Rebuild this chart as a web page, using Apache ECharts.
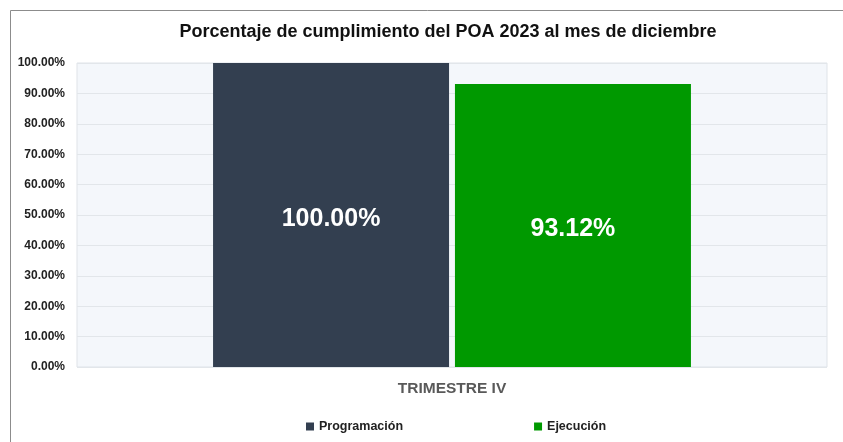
<!DOCTYPE html>
<html>
<head>
    <meta charset="utf-8">
    <script src="https://cdn.jsdelivr.net/npm/echarts@6/dist/echarts.min.js"></script>
    <style>
        body { margin: 0; background: #fff; }
    </style>
</head>
<body>
    <div id="main" style="width:843px; height:442px;"></div>
    <script type="text/javascript">
        var categories = ['TRIMESTRE IV'];
        var programacion = [100.00];
        var ejecucion = [93.12];
        var seriesNames = ['Programación', 'Ejecución'];

        var font = 'Liberation Sans';
        var myChart = echarts.init(document.getElementById('main'));
        var option = {
            animation: false,
            backgroundColor: '#fff',
            title: {
                text: 'Porcentaje de cumplimiento del POA 2023 al mes de diciembre',
                left: 443,
                textAlign: 'center',
                top: 18,
                textStyle: { fontFamily: font, fontSize: 18, fontWeight: 'bold', color: '#111' }
            },
            legend: {
                data: seriesNames,
                bottom: 4,
                left: 301,
                itemWidth: 8,
                itemHeight: 8,
                itemGap: 131,
                icon: 'rect',
                textStyle: { fontFamily: font, fontSize: 12.5, fontWeight: 'bold', color: '#222' }
            },
            grid: {
                left: 77, right: 16, top: 63, bottom: 75,
                show: true,
                backgroundColor: '#f4f7fb',
                borderColor: '#dfe3e8',
                borderWidth: 1
            },
            xAxis: {
                type: 'category',
                data: categories,
                axisLine: { show: false },
                axisTick: { show: false },
                axisLabel: {
                    margin: 14,
                    fontFamily: font, fontSize: 15.5, fontWeight: 'bold', color: '#595959'
                }
            },
            yAxis: {
                type: 'value',
                min: 0,
                max: 100,
                interval: 10,
                axisLine: { show: false },
                axisTick: { show: false },
                splitLine: { lineStyle: { color: '#e2e6ea', width: 1 } },
                axisLabel: {
                    margin: 12,
                    fontFamily: font, fontSize: 12, fontWeight: 'bold', color: '#222',
                    formatter: function (v) { return v.toFixed(2) + '%'; }
                }
            },
            series: [{
                name: seriesNames[0],
                type: 'bar',
                data: programacion,
                barWidth: 236,
                barGap: '2.5%',
                itemStyle: { color: '#333f50' },
                label: {
                    show: true, position: 'inside', offset: [0, 4],
                    fontFamily: font, fontSize: 25, fontWeight: 'bold', color: '#fff',
                    formatter: function (p) { return p.value.toFixed(2) + '%'; }
                }
            }, {
                name: seriesNames[1],
                type: 'bar',
                data: ejecucion,
                barWidth: 236,
                itemStyle: { color: '#009900' },
                label: {
                    show: true, position: 'inside', offset: [0, 4],
                    fontFamily: font, fontSize: 25, fontWeight: 'bold', color: '#fff',
                    formatter: function (p) { return p.value.toFixed(2) + '%'; }
                }
            }],
            graphic: [{
                type: 'rect',
                shape: { x: 10.5, y: 10.5, width: 900, height: 500 },
                style: { fill: 'none', stroke: '#8c8c8c', lineWidth: 1 },
                silent: true,
                z: -1
            }]
        };
        myChart.setOption(option);
    </script>
</body>
</html>
